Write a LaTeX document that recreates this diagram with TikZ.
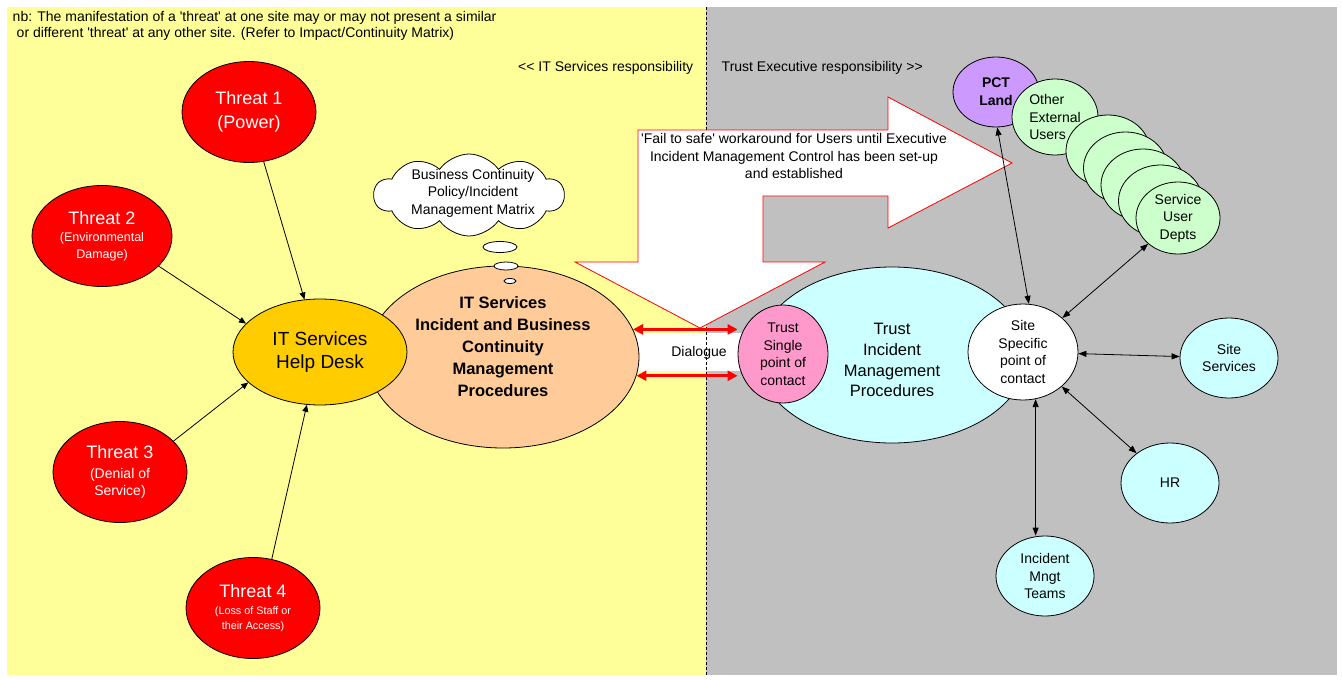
\documentclass[tikz,border=0pt]{standalone}
\usepackage{fontspec}
\setmainfont{Liberation Sans}[Ligatures=TeXOff]
\usepackage{xcolor}
\definecolor{ffff99}{HTML}{FFFF99}
\definecolor{c0c0c0}{HTML}{C0C0C0}
\definecolor{ff0000}{HTML}{FF0000}
\definecolor{ffcc00}{HTML}{FFCC00}
\definecolor{ffcc99}{HTML}{FFCC99}
\definecolor{ccffff}{HTML}{CCFFFF}
\definecolor{ff99cc}{HTML}{FF99CC}
\definecolor{cc99ff}{HTML}{CC99FF}
\definecolor{ccffcc}{HTML}{CCFFCC}
\usepackage{tikz}
\usetikzlibrary{shapes.geometric}
\usetikzlibrary{shapes.symbols}
\usetikzlibrary{arrows.meta}
\newcommand{\fsize}[2]{\fontsize{#1}{#2}\selectfont}

\begin{document}
\begin{tikzpicture}[x=1pt, y=-1pt, line width=0.8pt,
    threat/.style={ellipse, draw, fill=ff0000, text=white, inner sep=0, align=center, minimum width=134, minimum height=101},
    blob/.style={ellipse, draw, inner sep=0, align=center, font=\fsize{14}{17.5}},
    users/.style={blob, fill=ccffcc, minimum width=84, minimum height=72},
    bubble/.style={ellipse, draw, fill=white, inner sep=0},
    arr/.style={-{Triangle[length=7pt,width=6pt]}},
    twoway/.style={{Triangle[length=8pt,width=6pt]}-{Triangle[length=8pt,width=6pt]}},
    redarr/.style={line width=3pt, ff0000, {Triangle[length=10pt,width=10pt]}-{Triangle[length=10pt,width=10pt]}}]
            \useasboundingbox (0,0) rectangle (1342,680);
            \fill[white] (0,0) rectangle (1342,680);
            \fill[ffff99] (7,7) rectangle (706,675);
            \fill[c0c0c0] (706,7) rectangle (1337,675);
            \fill[white] (630,333) rectangle (745,371);
            \draw[line width=0.7pt, dash pattern=on 3pt off 2pt] (706,7) -- (706,675);

            \node[anchor=west, align=left, font=\fsize{14}{16}] (nb) at (9,25.5) {nb: The manifestation of a 'threat' at one site may or may not present a similar\\\hspace{4pt}or different 'threat' at any other site. (Refer to Impact/Continuity Matrix)};
            \node[anchor=east, font=\fsize{14}{17}] (itresp) at (697,68) {<\kern0pt< IT Services responsibility};
            \node[anchor=west, font=\fsize{14}{17}] (trustresp) at (718,68) {Trust Executive responsibility >\kern0pt>};

            % fail to safe arrow
            \draw[ff0000, fill=white] (638,130) -- (888,130) -- (888,97) -- (1012,163) -- (888,228) -- (888,196) -- (763,196) -- (763,262) -- (825,262) -- (700,328) -- (575,262) -- (638,262) -- cycle;
            \node[align=center, font=\fsize{14}{17.5}] (fail) at (794,156) {'Fail to safe' workaround for Users until Executive\\Incident Management Control has been set-up\\and established};

            % IT services side
            \node[threat, font=\fsize{18}{24}] (t1) at (249,112) {Threat 1\\(Power)};
            \node[threat, minimum width=140, font=\fsize{12.5}{16.5}] (t2) at (102,236) {\fsize{18}{24}Threat 2\\[1pt]\fsize{12.5}{16.5}(Environmental\\Damage)};
            \node[threat, font=\fsize{14}{17}] (t3) at (120,472) {\fsize{18}{24}Threat 3\\[2.5pt]\fsize{14}{17}(Denial of\\Service)};
            \node[threat, font=\fsize{10.8}{15}] (t4) at (253,608) {\fsize{18}{24}Threat 4\\[1.5pt]\fsize{10.8}{15}(Loss of Staff or\\their Access)};

            \node[blob, fill=ffcc99, minimum width=272, minimum height=182, text depth=20pt, font=\bfseries\fsize{16.5}{22}] (itproc) at (503,357) {IT Services\\Incident and Business\\Continuity\\Management\\Procedures};
            \node[blob, fill=ffcc00, minimum width=174, minimum height=106, font=\fsize{19}{23}] (help) at (320,352) {IT Services\\Help Desk};

            \node[cloud, draw, fill=white, cloud puffs=10, cloud puff arc=110, aspect=2.4, minimum width=190, minimum height=82, inner sep=0] (policy) at (469,195) {};
            \node[align=center, font=\fsize{14}{17.5}] (policytext) at (473,193) {Business Continuity\\Policy/Incident\\Management Matrix};
            \node[bubble, minimum width=34, minimum height=11] (b1) at (500,247) {};
            \node[bubble, minimum width=24, minimum height=8] (b2) at (506,266) {};
            \node[bubble, minimum width=12, minimum height=5] (b3) at (510,281) {};

            \draw[arr] (t1) -- (help);
            \draw[arr] (t2.332) -- (help.159);
            \draw[arr] (t3.30) -- (help.203);
            \draw[arr] (t4.69) -- (help.256);

            % trust side
            \node[blob, fill=ccffff, minimum width=270, minimum height=176, text height=84pt, font=\fsize{16.5}{20.7}] (trustproc) at (892,355) {Trust\\Incident\\Management\\Procedures};
            \node[blob, fill=ff99cc, minimum width=90, minimum height=98] (single) at (783,354) {Trust\\Single\\point of\\contact};
            \node[blob, fill=white, minimum width=110, minimum height=96] (site) at (1023,352) {Site\\Specific\\point of\\contact};

            \node[font=\fsize{14}{17}] (dlg) at (699,353) {Dialogue};
            \draw[redarr] (itproc.12) -- (itproc.12 -| single.west);
            \draw[redarr] (itproc.-8) -- (itproc.-8 -| single.west);

            \node[blob, fill=ccffff, minimum width=98, minimum height=80] (siteserv) at (1229,358) {Site\\Services};
            \node[blob, fill=ccffff, minimum width=98, minimum height=80] (hr) at (1170,483) {HR};
            \node[blob, fill=ccffff, minimum width=98, minimum height=80] (imt) at (1045,576) {Incident\\Mngt\\Teams};

            \node[blob, fill=cc99ff, minimum width=86, minimum height=70, font=\bfseries\fsize{14}{18}] (pct) at (996,92) {PCT\\Land};
            \node[users, minimum width=86, minimum height=76, align=left] (other) at (1055,117) {Other\\External\\Users};
            \node[users] (u1) at (1108,151) {};
            \node[users] (u2) at (1125.5,168) {};
            \node[users] (u3) at (1143,185) {};
            \node[users] (u4) at (1160.5,201) {};
            \node[users] (sud) at (1178,218) {Service\\User\\Depts};

            \draw[twoway] (pct.272) -- (site.83);
            \draw[twoway] (site) -- (sud);
            \draw[twoway] (site) -- (siteserv);
            \draw[twoway] (site) -- (hr);
            \draw[twoway] (site.-75) -- (site.-75 |- imt.north);
        \end{tikzpicture}
\end{document}
